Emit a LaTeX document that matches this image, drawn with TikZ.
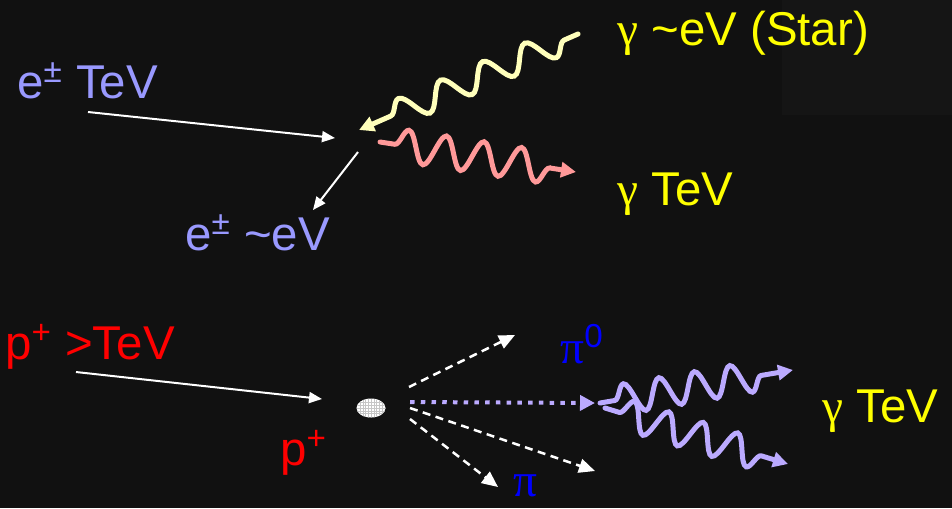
\documentclass[tikz,border=0pt]{standalone}
\usepackage{fontspec}
\setmainfont{Liberation Sans}
\newfontfamily\greekfont{Liberation Serif}
\usetikzlibrary{arrows.meta,decorations.pathmorphing,shapes.geometric}

\definecolor{bgcol}{HTML}{111111}
\definecolor{patchcol}{HTML}{151515}
\definecolor{elec}{HTML}{9999FF}
\definecolor{phot}{HTML}{FFFF00}
\definecolor{starwave}{HTML}{FFFFBB}
\definecolor{icwave}{HTML}{FF9999}
\definecolor{pionwave}{HTML}{BBAAFF}

\begin{document}
\begin{tikzpicture}[x=0.02cm,y=-0.02cm,
    lbl/.style={anchor=base west,inner sep=0pt,font=\fontsize{27}{32}\selectfont},
    track/.style={white,line width=0.04cm,-{Triangle[length=0.26cm,width=0.22cm]}},
    dashtrack/.style={white,line width=0.05cm,dash pattern=on 0.16cm off 0.11cm,
        -{Triangle[length=0.32cm,width=0.28cm]}},
    photon/.style 2 args={line width=0.1cm,line cap=round,decorate,
        decoration={snake,segment length=#1,amplitude=#2,pre length=0.3cm,post length=0.45cm},
        -{Triangle[length=0.3cm,width=0.3cm]}}]
  \fill[bgcol] (0,0) rectangle (952,508);
  \fill[patchcol] (782,0) rectangle (952,115);
  \useasboundingbox (0,0) rectangle (952,508);

  % inverse Compton part
  \node[lbl,elec] (eTeV) at (17,98) {e\textsuperscript{±} TeV};
  \node[lbl,elec] (eeV) at (185,250) {e\textsuperscript{±} \textasciitilde eV};
  \node[lbl,phot] (gStar) at (617,45) {{\greekfont γ} \textasciitilde eV (Star)};
  \node[lbl,phot] (gIC) at (617,205) {{\greekfont γ} TeV};

  \coordinate (eStart) at (88,112);
  \coordinate (eHit) at (335,138);
  \coordinate (eOut) at (358,152);
  \coordinate (eEnd) at (313,210);
  \coordinate (starStart) at (578,34);
  \coordinate (starEnd) at (359,130);
  \coordinate (icStart) at (380,142);
  \coordinate (icEnd) at (576,172);

  \draw[track] (eStart) -- (eHit);
  \draw[track] (eOut) -- (eEnd);
  \draw[starwave,photon={0.92cm}{0.26cm}] (starStart) -- (starEnd);
  \draw[icwave,photon={0.76cm}{0.32cm}] (icStart) -- (icEnd);

  % pion decay part
  \node[lbl,red] (pTeV) at (5,359) {p\textsuperscript{+} >TeV};
  \node[lbl,red] (pTarget) at (280,465) {p\textsuperscript{+}};
  \node[lbl,blue] (pi0) at (560,363) {{\greekfont π}\textsuperscript{0}};
  \node[lbl,blue] (piC) at (513,496) {{\greekfont π}};
  \node[lbl,phot] (gPi) at (822,422) {{\greekfont γ} TeV};

  \node[ellipse,fill=white,minimum width=0.58cm,minimum height=0.38cm,inner sep=0pt,
    path picture={
      \foreach \k in {-4,...,4}
        \draw[gray!45,line width=0.2pt] ([xshift=\k*0.055cm]path picture bounding box.north)
          -- ([xshift=\k*0.055cm]path picture bounding box.south);
      \foreach \k in {-2,...,2}
        \draw[gray!45,line width=0.2pt] ([yshift=\k*0.055cm]path picture bounding box.west)
          -- ([yshift=\k*0.055cm]path picture bounding box.east);
    }] (target) at (371,408) {};

  \coordinate (pStart) at (76,372);
  \coordinate (pHit) at (322,399);
  \coordinate (jetA) at (409,387);
  \coordinate (jetAEnd) at (515,335);
  \coordinate (jetB) at (410,402);
  \coordinate (jetBEnd) at (595,403);
  \coordinate (jetC) at (410,408);
  \coordinate (jetCEnd) at (595,471);
  \coordinate (jetD) at (410,419);
  \coordinate (jetDEnd) at (498,487);
  \coordinate (decA) at (600,403);
  \coordinate (decAEnd) at (793,370);
  \coordinate (decB) at (605,408);
  \coordinate (decBEnd) at (788,464);

  \draw[track] (pStart) -- (pHit);
  \draw[dashtrack] (jetA) -- (jetAEnd);
  \draw[dashtrack] (jetC) -- (jetCEnd);
  \draw[dashtrack] (jetD) -- (jetDEnd);
  \draw[pionwave,line width=0.08cm,dash pattern=on 0.09cm off 0.125cm,
    -{Triangle[length=0.3cm,width=0.3cm]}] (jetB) -- (jetBEnd);
  \draw[pionwave,photon={0.72cm}{0.3cm}] (decA) -- (decAEnd);
  \draw[pionwave,photon={0.72cm}{0.3cm}] (decB) -- (decBEnd);
\end{tikzpicture}
\end{document}
